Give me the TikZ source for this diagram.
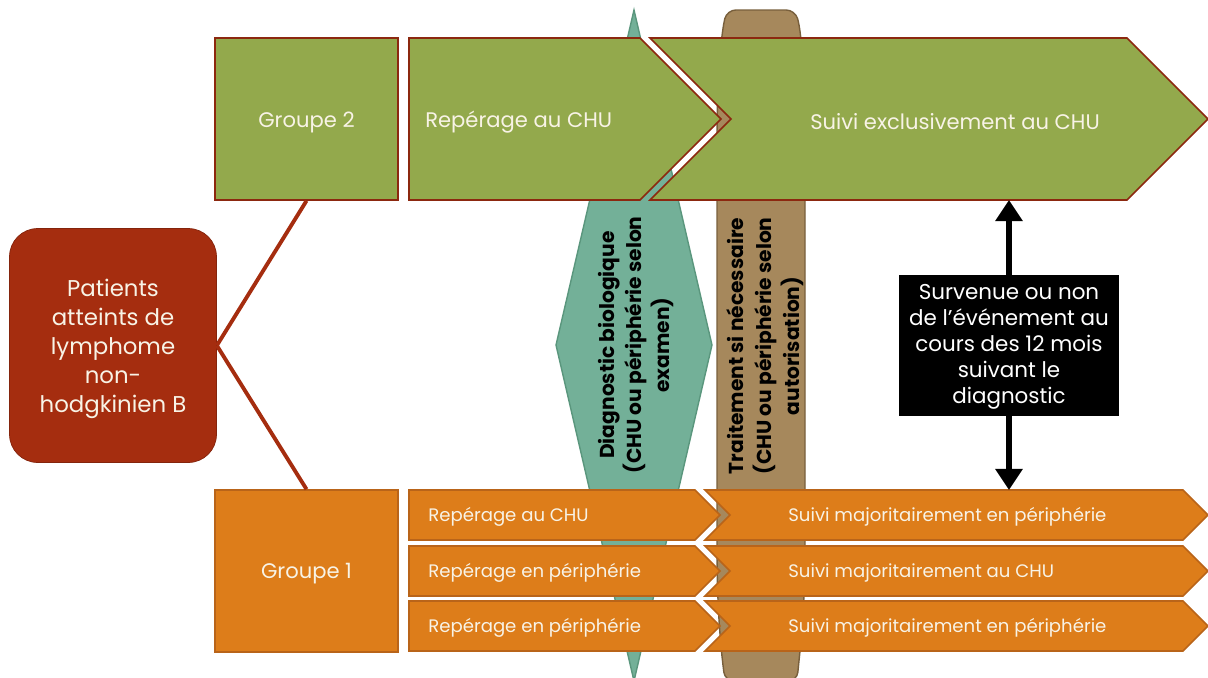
\documentclass[tikz,border=0pt]{standalone}
\usepackage{fontspec}
\setmainfont{Poppins}
\usetikzlibrary{arrows.meta}

\definecolor{grfill}{RGB}{147,169,76}
\definecolor{grdraw}{RGB}{140,40,15}
\definecolor{orfill}{RGB}{221,125,26}
\definecolor{ordraw}{RGB}{185,100,25}
\definecolor{tlfill}{RGB}{115,176,152}
\definecolor{tldraw}{RGB}{90,150,125}
\definecolor{brfill}{RGB}{166,136,92}
\definecolor{brdraw}{RGB}{120,95,60}
\definecolor{ptfill}{RGB}{165,45,15}
\definecolor{paletext}{RGB}{248,243,230}

\tikzset{
  grbox/.style={fill=grfill, draw=grdraw, line width=0.9pt},
  orbox/.style={fill=orfill, draw=ordraw, line width=0.9pt},
  bigtxt/.style={text=paletext, font=\fontsize{12}{16}\selectfont, inner sep=0pt},
  smalltxt/.style={text=paletext, font=\fontsize{10.3}{13}\selectfont, inner sep=0pt},
  vtxt/.style={rotate=90, align=center, font=\bfseries\fontsize{11.5}{15.8}\selectfont},
  link/.style={draw=ptfill, line width=2.2pt},
  evarrow/.style={line width=3.4pt, -{Triangle[width=15pt,length=12pt]}},
}

\begin{document}
\begin{tikzpicture}[x=0.02cm,y=-0.02cm]
        \useasboundingbox (0,0) rectangle (1208,677);

        % shapes behind the arrows
        \draw[fill=tlfill, draw=tldraw, line width=0.8pt] (634,10) -- (712,345) -- (634,681) -- (556,345) -- cycle;
        \draw[fill=brfill, draw=brdraw, line width=0.8pt, rounded corners=5pt]
        (717,345) -- (717,150) .. controls (717,70) and (722,30) .. (727,10)
        -- (795,10) .. controls (801,30) and (805,70) .. (805,150)
        -- (805,540) .. controls (805,610) and (800,650) .. (797,681)
        -- (725,681) .. controls (721,650) and (717,610) .. (717,540) -- cycle;

        % group 2
        \node[grbox, minimum width=3.66cm, minimum height=3.24cm] (g2) at (306.5,119) {};
        \node[bigtxt] (g2txt) at (306.5,122) {Groupe 2};
        \draw[grbox] (409,38) -- (640,38) -- (721,119) -- (640,200) -- (409,200) -- cycle;
        \draw[grbox] (650,38) -- (1127,38) -- (1208,119) -- (1127,200) -- (650,200) -- (731,119) -- cycle;
        \node[bigtxt, anchor=west] (rep2) at (425,122) {Repérage au CHU};
        \node[bigtxt] (suivi2) at (955,122) {Suivi exclusivement au CHU};
        \coordinate (suivi2b) at (1009,200);

        % group 1
        \node[orbox, minimum width=3.66cm, minimum height=3.24cm] (g1) at (306.5,571) {};
        \node[bigtxt] (g1txt) at (306.5,574) {Groupe 1};
        \draw[orbox] (409,490) -- (695,490) -- (720,515) -- (695,540) -- (409,540) -- cycle;
        \draw[orbox] (705,490) -- (1183,490) -- (1208,515) -- (1183,540) -- (705,540) -- (730,515) -- cycle;
        \draw[orbox] (409,546) -- (695,546) -- (720,571) -- (695,596) -- (409,596) -- cycle;
        \draw[orbox] (705,546) -- (1183,546) -- (1208,571) -- (1183,596) -- (705,596) -- (730,571) -- cycle;
        \draw[orbox] (409,601) -- (695,601) -- (720,626) -- (695,651) -- (409,651) -- cycle;
        \draw[orbox] (705,601) -- (1183,601) -- (1208,626) -- (1183,651) -- (705,651) -- (730,626) -- cycle;
        \node[smalltxt, anchor=west] (rep1a) at (428,517) {Repérage au CHU};
        \node[smalltxt, anchor=west] (rep1b) at (428,573) {Repérage en périphérie};
        \node[smalltxt, anchor=west] (rep1c) at (428,628) {Repérage en périphérie};
        \node[smalltxt, anchor=west] (suivi1a) at (788,517) {Suivi majoritairement en périphérie};
        \node[smalltxt, anchor=west] (suivi1b) at (788,573) {Suivi majoritairement au CHU};
        \node[smalltxt, anchor=west] (suivi1c) at (788,628) {Suivi majoritairement en périphérie};
        \coordinate (suivi1t) at (1009,490);

        % patients
        \node[fill=ptfill, draw=ptfill!80!black, rounded corners=16pt, minimum width=4.14cm, minimum height=4.68cm,
              text=paletext, align=center, font=\fontsize{13}{17}\selectfont] (patients) at (113,345.5) {};
        \node[text=paletext, align=center, font=\fontsize{13}{16.6}\selectfont] (ptxt) at (113,349)
              {Patients\\atteints de\\lymphome\\non-\\hodgkinien B};
        \path[link]
        (patients.east) edge (g2.south)
        (patients.east) edge (g1.north)
        ;

        % vertical labels
        \node[vtxt] (diag) at (636,345) {Diagnostic biologique\\(CHU ou périphérie selon\\examen)};
        \node[vtxt] (trait) at (765,346) {Traitement si nécessaire\\(CHU ou périphérie selon\\autorisation)};

        % event
        \node[fill=black, minimum width=4.4cm, minimum height=2.82cm] (event) at (1009,345.5) {};
        \node[text=white, align=center, font=\fontsize{12.2}{14.8}\selectfont] (evtxt) at (1009,347)
              {Survenue ou non\\de l'événement au\\cours des 12 mois\\suivant le\\diagnostic};
        \draw[evarrow] (event.north) -- (suivi2b);
        \draw[evarrow] (event.south) -- (suivi1t);
\end{tikzpicture}
\end{document}
